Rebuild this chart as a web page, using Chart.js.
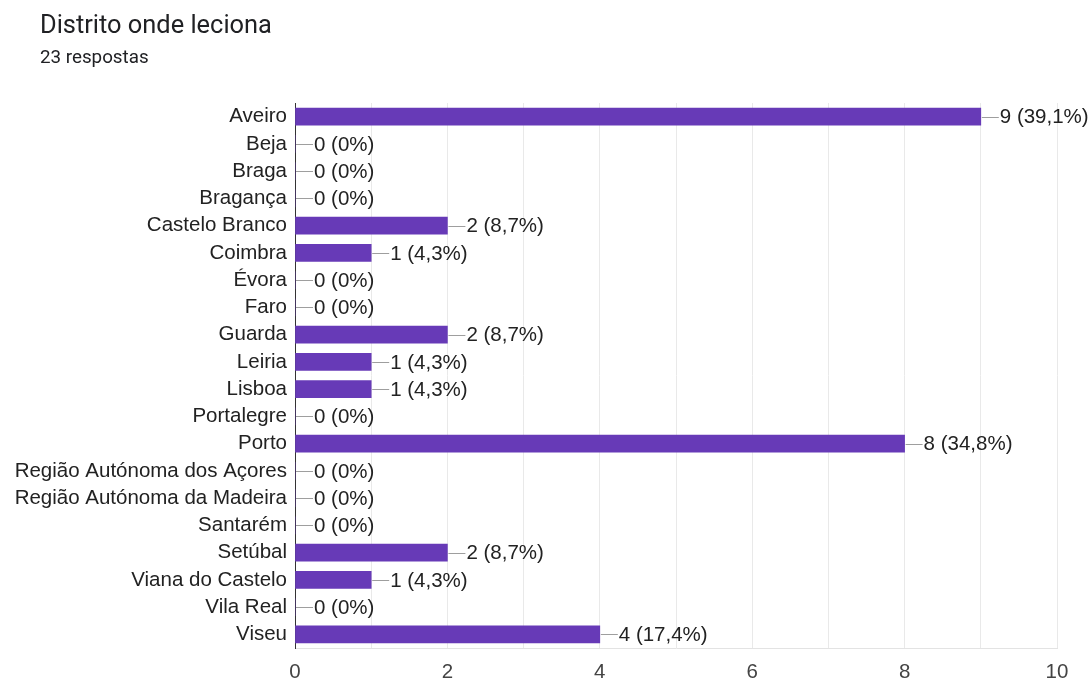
<!DOCTYPE html>
<html>
<head>
<meta charset="utf-8">
<script src="https://cdn.jsdelivr.net/npm/chart.js@4"></script>
<style>
  body { margin: 0; background: #fff; }
  #wrap { position: relative; width: 1091px; height: 680px; }
  #title { position: absolute; left: 40px; top: 9px; font: 25.4px Roboto, sans-serif; color: #202124; white-space: nowrap; }
  #sub { position: absolute; left: 40px; top: 46px; font: 18.8px Roboto, sans-serif; color: #202124; white-space: nowrap; }
  canvas { position: absolute; left: 0; top: 0; }
</style>
</head>
<body>
<div id="wrap">
  <canvas id="distChart" width="1091" height="680"></canvas>
  <div id="title">Distrito onde leciona</div>
  <div id="sub">23 respostas</div>
</div>
<script>
  // Respostas por distrito (escolha multipla, 23 respondentes)
  var districts = [
    'Aveiro', 'Beja', 'Braga', 'Bragança', 'Castelo Branco', 'Coimbra',
    'Évora', 'Faro', 'Guarda', 'Leiria', 'Lisboa', 'Portalegre', 'Porto',
    'Região Autónoma dos Açores', 'Região Autónoma da Madeira', 'Santarém',
    'Setúbal', 'Viana do Castelo', 'Vila Real', 'Viseu'
  ];
  var counts = [9, 0, 0, 0, 2, 1, 0, 0, 2, 1, 1, 0, 8, 0, 0, 0, 2, 1, 0, 4];
  var respondents = 23;
  var xTicks = [0, 2, 4, 6, 8, 10];

  var fontFamily = '"Liberation Sans", Arial, sans-serif';
  var fontSize = 20.5;

  var valueLabels = {
    id: 'valueLabels',
    afterDatasetsDraw: function (chart) {
      var c = chart.ctx;
      var meta = chart.getDatasetMeta(0);
      c.save();
      c.font = fontSize + 'px ' + fontFamily;
      c.textBaseline = 'middle';
      c.textAlign = 'left';
      meta.data.forEach(function (bar, i) {
        var v = counts[i];
        var pct = Number((v / respondents * 100).toFixed(1)).toString().replace('.', ',');
        var x = bar.x, y = bar.y;
        c.strokeStyle = '#9e9e9e';
        c.lineWidth = 1;
        c.beginPath();
        c.moveTo(x + 1, Math.round(y) + 0.5);
        c.lineTo(x + 18, Math.round(y) + 0.5);
        c.stroke();
        c.fillStyle = '#222';
        c.fillText(v + ' (' + pct + '%)', x + 19, y + 1);
      });
      c.restore();
    }
  };

  new Chart(document.getElementById('distChart'), {
    type: 'bar',
    data: {
      labels: districts,
      datasets: [{
        data: counts,
        backgroundColor: '#673ab7',
        barThickness: 17
      }]
    },
    options: {
      indexAxis: 'y',
      responsive: false,
      animation: false,
      layout: { padding: { top: 103, right: 34, left: 0, bottom: 0 } },
      plugins: {
        legend: { display: false },
        tooltip: { enabled: false }
      },
      scales: {
        x: {
          min: 0,
          max: 10,
          ticks: {
            stepSize: 1,
            padding: 12,
            autoSkip: false,
            maxRotation: 0,
            color: '#444',
            font: { family: fontFamily, size: fontSize },
            callback: function (v) { return xTicks.indexOf(v) >= 0 ? v : ''; }
          },
          grid: { color: '#e9e9e9', drawTicks: false },
          border: { color: '#e3e3e3' },
          afterFit: function (s) { s.height = 32; }
        },
        y: {
          ticks: {
            padding: 8,
            autoSkip: false,
            color: '#222',
            font: { family: fontFamily, size: fontSize }
          },
          grid: { display: false, drawTicks: false },
          border: { color: '#333', width: 1 },
          afterFit: function (s) { s.width = 295; }
        }
      }
    },
    plugins: [valueLabels]
  });
</script>
</body>
</html>
